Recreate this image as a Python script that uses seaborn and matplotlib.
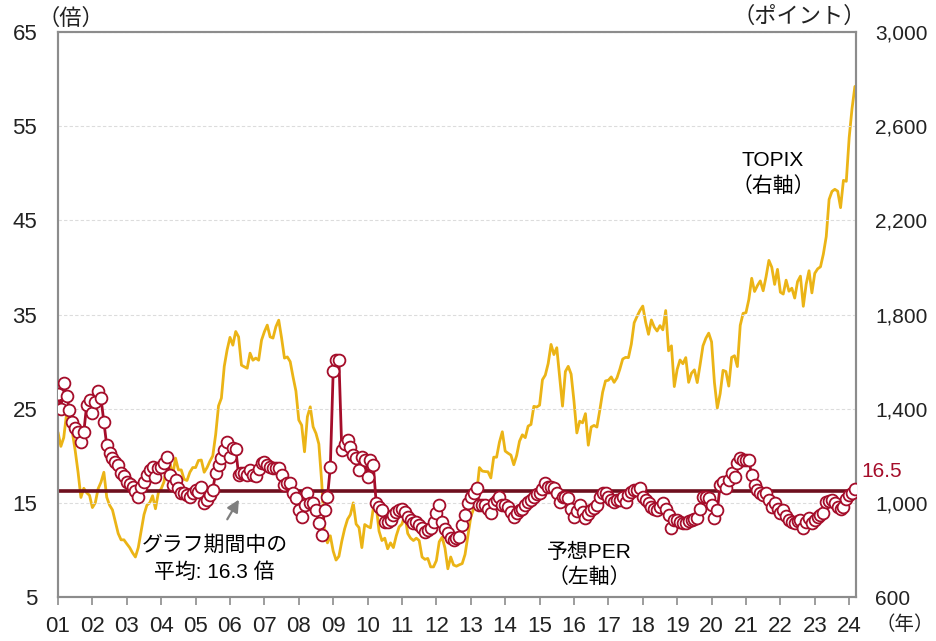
import matplotlib
matplotlib.use('Agg')
import matplotlib.pyplot as plt
import seaborn as sns
import pandas as pd
from matplotlib.ticker import FuncFormatter

# 予想PER（倍）, monthly, Jan 2001 - Mar 2024
per_by_year = {
    2001: [26.6, 25.0, 27.7, 26.4, 24.9, 23.6, 23.0, 22.5, 21.5, 22.5, 25.4, 25.9],
    2002: [24.5, 25.7, 26.9, 26.1, 23.6, 21.1, 20.3, 19.8, 19.3, 19.0, 18.2, 17.9],
    2003: [17.2, 17.0, 16.7, 16.3, 15.6, 16.7, 17.2, 18.0, 18.5, 18.8, 17.7, 18.7],
    2004: [18.8, 19.2, 19.9, 18.0, 16.9, 17.4, 16.6, 16.0, 16.1, 15.8, 15.6, 16.1],
    2005: [16.4, 16.2, 16.7, 15.0, 15.3, 15.8, 16.4, 18.2, 19.0, 19.8, 20.6, 21.5],
    2006: [19.9, 20.8, 20.7, 18.0, 18.2, 18.2, 18.0, 18.5, 18.0, 17.8, 18.6, 19.2],
    2007: [19.3, 19.0, 18.8, 18.7, 18.7, 18.7, 18.0, 16.9, 17.1, 17.1, 16.1, 15.5],
    2008: [14.2, 13.5, 14.8, 16.0, 15.0, 15.0, 14.2, 12.9, 11.6, 14.2, 15.6, 18.8],
    2009: [29.0, 30.2, 30.2, 20.6, 21.3, 21.7, 20.9, 20.1, 19.8, 18.5, 19.9, 19.5],
    2010: [17.7, 19.5, 19.0, 15.0, 14.6, 14.2, 13.0, 13.0, 13.2, 13.7, 14.0, 14.2],
    2011: [14.4, 14.0, 13.5, 13.2, 12.9, 13.0, 12.6, 12.3, 11.9, 12.1, 12.3, 13.0],
    2012: [13.9, 14.8, 13.0, 12.2, 11.8, 11.3, 11.1, 11.3, 11.4, 12.6, 13.7, 15.0],
    2013: [15.6, 16.1, 16.6, 14.8, 14.8, 14.8, 14.4, 13.9, 15.0, 15.3, 15.6, 14.8],
    2014: [14.8, 14.6, 14.0, 13.5, 13.9, 14.2, 14.4, 14.8, 15.1, 15.3, 15.6, 15.9],
    2015: [16.1, 16.5, 17.1, 16.7, 16.7, 16.6, 16.0, 15.1, 15.6, 15.6, 15.5, 14.4],
    2016: [13.5, 14.1, 14.8, 14.0, 13.4, 13.8, 14.2, 14.5, 14.8, 15.6, 16.1, 16.0],
    2017: [15.6, 15.3, 15.1, 15.3, 15.3, 15.6, 15.1, 15.8, 16.2, 16.4, 16.4, 16.6],
    2018: [15.6, 15.3, 15.0, 14.6, 14.4, 14.2, 14.6, 15.0, 14.3, 13.7, 12.3, 13.2],
    2019: [13.2, 13.0, 12.9, 12.9, 13.1, 13.2, 13.3, 13.4, 14.4, 15.6, 15.6, 15.5],
    2020: [14.8, 13.4, 14.2, 16.9, 17.2, 16.6, 17.4, 18.2, 17.7, 19.2, 19.8, 19.5],
    2021: [19.5, 19.5, 18.0, 16.9, 16.4, 16.0, 15.8, 16.0, 15.3, 14.6, 15.0, 14.4],
    2022: [13.9, 14.2, 13.6, 13.2, 13.0, 12.9, 13.1, 13.2, 12.3, 13.0, 13.4, 12.9],
    2023: [13.2, 13.5, 13.7, 13.9, 15.1, 15.2, 15.3, 15.0, 14.6, 14.4, 14.6, 15.4],
    2024: [15.8, 16.0, 16.5],
}

# TOPIX（ポイント）, monthly
topix_by_year = {
    2001: [1300, 1240, 1277, 1380, 1360, 1300, 1222, 1130, 1023, 1062, 1043, 1032],
    2002: [980, 1000, 1060, 1088, 1130, 1024, 990, 970, 920, 870, 843, 843],
    2003: [826, 810, 788, 770, 810, 880, 950, 990, 1000, 1030, 975, 1043],
    2004: [1060, 1090, 1179, 1174, 1115, 1190, 1140, 1140, 1100, 1095, 1130, 1150],
    2005: [1150, 1180, 1182, 1130, 1150, 1177, 1200, 1290, 1412, 1445, 1580, 1650],
    2006: [1703, 1670, 1728, 1705, 1585, 1578, 1572, 1636, 1606, 1615, 1606, 1691],
    2007: [1727, 1755, 1705, 1700, 1748, 1776, 1700, 1615, 1620, 1600, 1535, 1475],
    2008: [1352, 1330, 1217, 1366, 1408, 1323, 1295, 1250, 1087, 867, 830, 860],
    2009: [795, 757, 773, 837, 890, 930, 950, 1000, 910, 895, 810, 908],
    2010: [900, 894, 978, 987, 880, 840, 850, 805, 830, 810, 860, 898],
    2011: [910, 950, 870, 850, 840, 850, 840, 770, 760, 764, 728, 728],
    2012: [755, 835, 854, 808, 720, 770, 736, 731, 737, 742, 781, 860],
    2013: [940, 975, 1034, 1150, 1135, 1133, 1132, 1106, 1194, 1194, 1258, 1302],
    2014: [1220, 1211, 1203, 1162, 1201, 1262, 1289, 1277, 1326, 1333, 1410, 1407],
    2015: [1415, 1523, 1543, 1592, 1673, 1630, 1659, 1537, 1411, 1558, 1580, 1547],
    2016: [1432, 1297, 1347, 1340, 1379, 1245, 1322, 1329, 1322, 1393, 1470, 1518],
    2017: [1521, 1535, 1512, 1531, 1568, 1611, 1618, 1617, 1674, 1765, 1792, 1817],
    2018: [1836, 1768, 1716, 1777, 1747, 1730, 1753, 1735, 1817, 1646, 1667, 1494],
    2019: [1567, 1607, 1591, 1617, 1512, 1551, 1565, 1511, 1587, 1667, 1699, 1721],
    2020: [1684, 1511, 1403, 1464, 1563, 1558, 1496, 1618, 1625, 1579, 1754, 1805],
    2021: [1808, 1864, 1954, 1898, 1923, 1943, 1901, 1960, 2030, 2001, 1928, 1992],
    2022: [1895, 1887, 1946, 1899, 1912, 1870, 1940, 1963, 1835, 1929, 1986, 1892],
    2023: [1975, 1994, 2003, 2057, 2131, 2289, 2323, 2332, 2324, 2254, 2370, 2366],
    2024: [2551, 2675, 2769],
}

per_avg = 16.3
year_ticks = list(range(2001, 2025))
year_labels = [f'{y % 100:02d}' for y in year_ticks]
per_ticks = [5, 15, 25, 35, 45, 55, 65]
topix_ticks = [600, 1000, 1400, 1800, 2200, 2600, 3000]

# データ整形
rows = []
for y in per_by_year:
    for m, (p, t) in enumerate(zip(per_by_year[y], topix_by_year[y])):
        rows.append({'t': y + m / 12, 'per': p, 'topix': t})
df = pd.DataFrame(rows)

sns.set_theme(style='white')
plt.rcParams['font.family'] = ['Liberation Sans', 'Noto Sans CJK JP']

RED = '#A50D2A'
YEL = '#EBB416'
AVG = '#6E0F1E'
TXT = '#222222'
SPINE = '#8c8c8c'

fig, ax = plt.subplots(figsize=(9.37, 6.41), dpi=100)
fig.subplots_adjust(left=0.0619, right=0.9136, top=0.950, bottom=0.0686)
ax2 = ax.twinx()

sns.lineplot(data=df, x='t', y='topix', ax=ax2, color=YEL, linewidth=2.0)
ax.axhline(per_avg, color=AVG, linewidth=2.6, zorder=2)
sns.lineplot(data=df, x='t', y='per', ax=ax, color=RED, linewidth=2.0,
             marker='o', markersize=8.5, markerfacecolor='white',
             markeredgecolor=RED, markeredgewidth=1.3, zorder=3)

ax.set_zorder(ax2.get_zorder() + 1)
ax.patch.set_visible(False)

ax.set_xlim(2001, 2024.2)
ax.set_ylim(5, 65)
ax2.set_ylim(600, 3000)
ax.set_xticks(year_ticks)
ax.set_xticklabels(year_labels)
ax.set_yticks(per_ticks)
ax2.set_yticks(topix_ticks)
ax2.yaxis.set_major_formatter(FuncFormatter(lambda v, _: f'{v:,.0f}'))
ax.set_xlabel('')
ax.set_ylabel('')
ax2.set_ylabel('')

ax.yaxis.grid(True, color='#dcdcdc', linestyle=(0, (3, 2)), linewidth=0.8)
ax.set_axisbelow(True)

ax.tick_params(axis='x', length=6, width=1.2, color=SPINE, pad=8,
               labelsize=16, labelcolor=TXT, direction='out', bottom=True)
ax.tick_params(axis='y', length=0, pad=15, labelsize=16, labelcolor=TXT)
ax2.tick_params(axis='y', length=0, pad=14, labelsize=15, labelcolor=TXT)
for a in (ax, ax2):
    for s in a.spines.values():
        s.set_color(SPINE)
        s.set_linewidth(1.5)

# 注記
ax.text(2021.78, 50.0, 'TOPIX\n（右軸）', ha='center', va='center',
        fontsize=15, color='black', linespacing=1.35)
ax.text(2016.45, 8.4, '予想PER\n（左軸）', ha='center', va='center',
        fontsize=15, color='black', linespacing=1.35)
ax.text(2005.55, 9.1, 'グラフ期間中の\n平均: 16.3 倍', ha='center', va='center',
        fontsize=15, color='black', linespacing=1.45)
ax.annotate('', xy=(2006.3, 15.6), xytext=(2005.88, 13.0),
            arrowprops=dict(arrowstyle='-|>', color='#7f7f7f', lw=1.6,
                            mutation_scale=18))
ax.text(2024.35, 18.3, f'{per_by_year[2024][-1]:.1f}', ha='left', va='center',
        fontsize=15, color=RED, clip_on=False)

fig.text(71 / 937, 1 - 19 / 641, '（倍）', ha='center', va='center', fontsize=16, color=TXT)
fig.text(866 / 937, 1 - 17 / 641, '（ポイント）', ha='right', va='center', fontsize=16, color=TXT)
fig.text(934 / 937, 1 - 625 / 641, '（年）', ha='right', va='center', fontsize=14, color=TXT)

fig.savefig('out.png', dpi=100)
